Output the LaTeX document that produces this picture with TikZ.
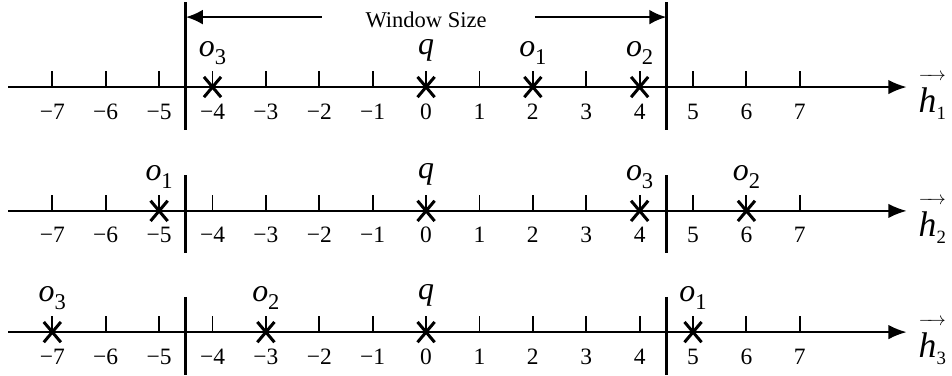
\documentclass[tikz,border=0pt]{standalone}
\usepackage{amsmath}
\usepackage{fontspec}
\setmainfont{Liberation Serif}
\usepackage{tikz}
\usetikzlibrary{arrows.meta,positioning,shapes.misc}
\tikzset{
  tickmark/.style={line width=1pt},
  xmark/.style={cross out,draw,line width=1.6pt,minimum width=0.32cm,minimum height=0.38cm,inner sep=0pt,outer sep=0pt},
  ptlabel/.style={inner sep=0pt},
  numlabel/.style={font=\fontsize{12.5}{12.5}\selectfont,anchor=base,inner sep=0pt},
  winline/.style={line width=1.6pt},
  winarrow/.style={line width=1.3pt,->}
}
\newcommand{\olab}[1]{{\fontsize{17}{17}\selectfont\itshape o}\raisebox{-4.5pt}[\height][0pt]{\fontsize{12}{12}\selectfont #1}}
\newcommand{\qlab}{{\fontsize{17}{17}\selectfont\itshape q}}
\newcommand{\hlab}[1]{$\overrightarrow{\raisebox{0pt}[17pt][0pt]{\fontsize{19}{19}\selectfont\itshape h}\raisebox{-4pt}[0pt][0pt]{\fontsize{10}{10}\selectfont #1}}$}
\newcommand{\axisrow}[3]{%
  \coordinate (#1s) at (-7.83,#2); \coordinate (#1e) at (9.0,#2);
  \draw[line width=1pt,-{Latex[length=0.34cm,width=0.27cm]}] (#1s) -- (#1e);
  \foreach \i in {-7,...,7}{
    \draw[tickmark] (\i,#2) -- ++(0,0.3);
    \node[numlabel] (#1n\i) at (\i,#2-0.6) {\ifnum\i<0 −\number-\i\else\i\fi};}
  \node[inner sep=0pt,anchor=base west] (#1h) at (9.22,#2-0.47) {\hlab{#3}};}

\begin{document}
\begin{tikzpicture}[>={Latex[length=0.32cm,width=0.28cm]}]
\useasboundingbox (-7.98,-5.41) rectangle (9.85,1.63);
\axisrow{r1}{0}{1}
\axisrow{r2}{-2.32}{2}
\axisrow{r3}{-4.59}{3}
\coordinate (w1lt) at (-4.5,1.59); \coordinate (w1lb) at (-4.5,-0.81);
\coordinate (w1rt) at (4.5,1.59); \coordinate (w1rb) at (4.5,-0.81);
\draw[winline] (w1lt) -- (w1lb); \draw[winline] (w1rt) -- (w1rb);
\coordinate (w2lt) at (-4.5,-1.65); \coordinate (w2lb) at (-4.5,-3.11);
\coordinate (w2rt) at (4.5,-1.65); \coordinate (w2rb) at (4.5,-3.11);
\draw[winline] (w2lt) -- (w2lb); \draw[winline] (w2rt) -- (w2rb);
\coordinate (w3lt) at (-4.5,-3.93); \coordinate (w3lb) at (-4.5,-5.39);
\coordinate (w3rt) at (4.5,-3.93); \coordinate (w3rb) at (4.5,-5.39);
\draw[winline] (w3lt) -- (w3lb); \draw[winline] (w3rt) -- (w3rb);
\node[anchor=base,inner sep=0pt,font=\fontsize{12}{12}\selectfont] (ws) at (0,1.12) {Window Size};
\coordinate (wsl) at (-1.95,1.31); \coordinate (wsle) at (-4.5,1.31);
\coordinate (wsr) at (2.04,1.31); \coordinate (wsre) at (4.5,1.31);
\draw[winarrow] (wsl) -- (wsle); \draw[winarrow] (wsr) -- (wsre);
\node[xmark] (r1o3) at (-4,0) {}; \node[ptlabel,above=0.37cm of r1o3] (r1o3l) {\olab{3}};
\node[xmark] (r1q) at (0,0) {}; \node[ptlabel,above=0.28cm of r1q] (r1ql) {\qlab};
\node[xmark] (r1o1) at (2,0) {}; \node[ptlabel,above=0.37cm of r1o1] (r1o1l) {\olab{1}};
\node[xmark] (r1o2) at (4,0) {}; \node[ptlabel,above=0.37cm of r1o2] (r1o2l) {\olab{2}};
\node[xmark] (r2o1) at (-5,-2.32) {}; \node[ptlabel,above=0.37cm of r2o1] (r2o1l) {\olab{1}};
\node[xmark] (r2q) at (0,-2.32) {}; \node[ptlabel,above=0.28cm of r2q] (r2ql) {\qlab};
\node[xmark] (r2o3) at (4,-2.32) {}; \node[ptlabel,above=0.37cm of r2o3] (r2o3l) {\olab{3}};
\node[xmark] (r2o2) at (6,-2.32) {}; \node[ptlabel,above=0.37cm of r2o2] (r2o2l) {\olab{2}};
\node[xmark] (r3o3) at (-7,-4.59) {}; \node[ptlabel,above=0.37cm of r3o3] (r3o3l) {\olab{3}};
\node[xmark] (r3o2) at (-3,-4.59) {}; \node[ptlabel,above=0.37cm of r3o2] (r3o2l) {\olab{2}};
\node[xmark] (r3q) at (0,-4.59) {}; \node[ptlabel,above=0.28cm of r3q] (r3ql) {\qlab};
\node[xmark] (r3o1) at (5,-4.59) {}; \node[ptlabel,above=0.37cm of r3o1] (r3o1l) {\olab{1}};
\end{tikzpicture}
\end{document}
